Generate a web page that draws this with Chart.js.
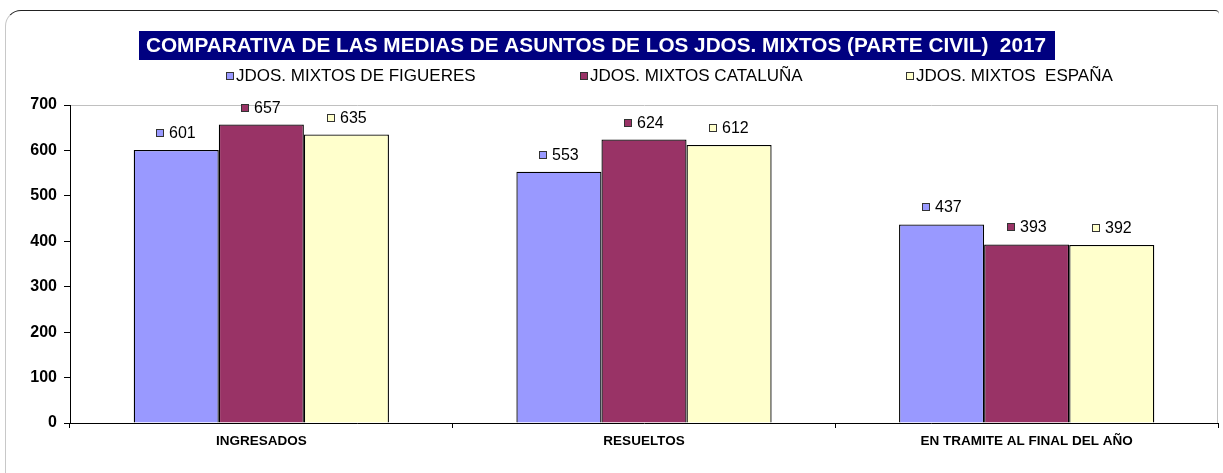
<!DOCTYPE html>
<html>
<head>
<meta charset="utf-8">
<title>Medias de asuntos - Jdos. Mixtos 2017</title>
<script src="https://cdn.jsdelivr.net/npm/chart.js@4/dist/chart.umd.min.js"></script>
<style>
  html, body { margin: 0; padding: 0; background: #fff; }
  #wrap { position: relative; width: 1223px; height: 473px; overflow: hidden; }
  #marco {
    position: absolute; left: 5px; top: 10px; width: 1213px; height: 480px;
    border-top: 1px solid #222; border-left: 1px solid #c8c8c8;
    border-top-left-radius: 16px; border-top-right-radius: 4px;
  }
  canvas { position: absolute; left: 0; top: 0; }
</style>
</head>
<body>
<div id="wrap">
  <div id="marco"></div>
  <canvas id="barChart_medias" width="1223" height="473"></canvas>
</div>
<script>
const titulo = 'COMPARATIVA DE LAS MEDIAS DE ASUNTOS DE LOS JDOS. MIXTOS (PARTE CIVIL)  2017';
const categorias = ['INGRESADOS', 'RESUELTOS', 'EN TRAMITE AL FINAL DEL AÑO'];
const series = ['JDOS. MIXTOS DE FIGUERES', 'JDOS. MIXTOS CATALUÑA', 'JDOS. MIXTOS  ESPAÑA'];
const figueres = [601, 553, 437];
const cataluna = [657, 624, 393];
const espana = [635, 612, 392];
const colores = ['#9999FF', '#993366', '#FFFFCC'];
const ejeY = { min: 0, max: 700, paso: 100 };

const fuente = '"Liberation Sans", Arial, Helvetica, sans-serif';
Chart.defaults.font.family = fuente;
Chart.defaults.color = '#000';

// cabecera: titulo en caja azul y leyenda en una linea
const cabecera = {
    id: 'cabecera',
    afterDraw(chart) {
        const ctx = chart.ctx;
        ctx.save();
        ctx.fillStyle = '#000080';
        ctx.fillRect(139, 31, 916, 29);
        ctx.fillStyle = '#fff';
        ctx.font = 'bold 21px ' + fuente;
        ctx.textAlign = 'center';
        ctx.textBaseline = 'middle';
        ctx.fillText(titulo, 596, 46.5, 900);

        const xs = [226, 580, 906];
        ctx.font = '17px ' + fuente;
        ctx.textAlign = 'left';
        series.forEach((s, i) => {
            ctx.fillStyle = colores[i];
            ctx.fillRect(xs[i], 72, 8, 8);
            ctx.strokeStyle = '#333';
            ctx.lineWidth = 1;
            ctx.strokeRect(xs[i] + 0.5, 72.5, 7, 7);
            ctx.fillStyle = '#000';
            ctx.fillText(s, xs[i] + 10, 76.5);
        });
        ctx.restore();
    },
};

// borde gris derecho del area de trazado
const bordeArea = {
    id: 'bordeArea',
    beforeDatasetsDraw(chart) {
        const { ctx, chartArea } = chart;
        ctx.save();
        ctx.strokeStyle = '#c0c0c0';
        ctx.lineWidth = 1;
        ctx.beginPath();
        ctx.moveTo(Math.round(chartArea.right) - 0.5, chartArea.top);
        ctx.lineTo(Math.round(chartArea.right) - 0.5, chartArea.bottom);
        ctx.stroke();
        ctx.restore();
    },
};

// etiqueta de valor con cuadrito de color encima de cada barra
const etiquetas = {
    id: 'etiquetas',
    afterDatasetsDraw(chart) {
        const ctx = chart.ctx;
        ctx.save();
        ctx.font = '16px ' + fuente;
        ctx.textBaseline = 'middle';
        ctx.textAlign = 'left';
        chart.data.datasets.forEach((ds, i) => {
            chart.getDatasetMeta(i).data.forEach((bar, j) => {
                const txt = String(ds.data[j]);
                const w = ctx.measureText(txt).width;
                const x0 = Math.round(bar.x - (13 + w) / 2);
                const y = Math.round(bar.y - 17);
                ctx.fillStyle = ds.backgroundColor;
                ctx.fillRect(x0, y - 4, 8, 8);
                ctx.strokeStyle = '#333';
                ctx.lineWidth = 1;
                ctx.strokeRect(x0 + 0.5, y - 3.5, 7, 7);
                ctx.fillStyle = '#000';
                ctx.fillText(txt, x0 + 13, y + 1);
            });
        });
        ctx.restore();
    },
};

const datos = [figueres, cataluna, espana];

new Chart(document.getElementById('barChart_medias'), {
    type: 'bar',
    data: {
        labels: categorias,
        datasets: series.map((s, i) => ({
            label: s,
            data: datos[i],
            backgroundColor: colores[i],
            borderColor: '#000',
            borderWidth: 1.3,
            barPercentage: 1,
            categoryPercentage: 0.667,
        })),
    },
    options: {
        responsive: false,
        animation: false,
        layout: { padding: { top: 105, left: 6, right: 5, bottom: 0 } },
        plugins: {
            legend: { display: false },
            title: { display: false },
            tooltip: { enabled: false },
        },
        scales: {
            x: {
                grid: { offset: true, drawOnChartArea: false, tickColor: '#000', tickLength: 5 },
                border: { color: '#000', width: 1 },
                ticks: { color: '#000', font: { size: 13.5, weight: 'bold' }, padding: 5, maxRotation: 0 },
                afterFit: (s) => { s.height = 50; },
            },
            y: {
                min: ejeY.min,
                max: ejeY.max,
                ticks: { stepSize: ejeY.paso, color: '#000', font: { size: 16, weight: 'bold' }, padding: 7 },
                grid: {
                    color: (c) => (c.tick && c.tick.value === ejeY.max ? '#c0c0c0' : 'rgba(0,0,0,0)'),
                    tickColor: '#000',
                    tickLength: 6,
                },
                border: { color: '#000', width: 1 },
                afterFit: (s) => { s.width = 64; },
            },
        },
    },
    plugins: [bordeArea, etiquetas, cabecera],
});
</script>
</body>
</html>
